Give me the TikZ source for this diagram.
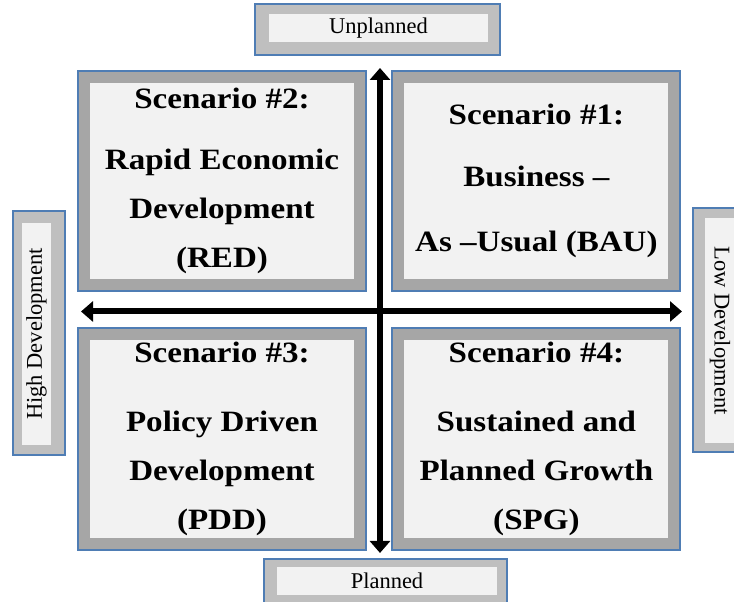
\documentclass[tikz,border=0pt]{standalone}
\usepackage{fontspec}
\setmainfont{Liberation Serif}
\newfontfamily\scenfont[FakeStretch=1.12]{Liberation Serif}
\usetikzlibrary{arrows.meta}
\definecolor{rimblue}{RGB}{79,125,180}
\definecolor{bandgray}{RGB}{166,166,166}
\definecolor{taggray}{RGB}{191,191,191}
\definecolor{paper}{RGB}{242,242,242}
\tikzset{
    scenbox/.style = {rectangle, draw=rimblue, line width=1.3pt, fill=bandgray, minimum width=7.2cm, inner sep=0pt},
    scentext/.style = {rectangle, fill=paper, minimum width=6.6cm, align=center, inner sep=0pt, font=\scenfont\bfseries\fontsize{21}{35}\selectfont},
    tagbox/.style = {rectangle, draw=rimblue, line width=1.3pt, fill=taggray, inner sep=0pt},
    tagtext/.style = {rectangle, fill=paper, inner sep=0pt, font=\fontsize{16}{19}\selectfont},
    axis/.style = {{Triangle[width=0.5cm,length=0.3cm]}-{Triangle[width=0.5cm,length=0.3cm]}, line width=0.15cm}
}

\begin{document}
\begin{tikzpicture}
\path[use as bounding box] (0,0) rectangle (18.35,15.05);
\clip (0,0) rectangle (18.35,15.05);
%
% scenario quadrants
\node[scenbox,minimum height=5.5cm] at (5.55,10.525) (s2) {};
\node[scentext,minimum height=4.9cm] at (s2) (s2t) {Scenario \#2:\\[8pt] Rapid Economic\\ Development\\ (RED)};
\node[scenbox,minimum height=5.5cm] at (13.41,10.525) (s1) {};
\node[scentext,minimum height=4.9cm] at (s1) (s1t) {Scenario \#1:\\[9pt] Business –\\[11pt] As –Usual (BAU)};
\node[scenbox,minimum height=5.55cm] at (5.55,4.075) (s3) {};
\node[scentext,minimum height=4.95cm] at (s3) (s3t) {Scenario \#3:\\[14pt] Policy Driven\\ Development\\ (PDD)};
\node[scenbox,minimum height=5.55cm] at (13.41,4.075) (s4) {};
\node[scentext,minimum height=4.95cm] at (s4) (s4t) {Scenario \#4:\\[14pt] Sustained and\\ Planned Growth\\ (SPG)};
%
% axis labels
\node[tagbox,minimum width=6.125cm,minimum height=1.275cm] at (9.4375,14.3125) (unpl) {};
\node[tagtext,minimum width=5.475cm,minimum height=0.7cm] at (9.4625,14.35) (unplt) {Unplanned};
\node[tagbox,minimum width=6.075cm,minimum height=1.325cm] at (9.6375,0.4125) (pl) {};
\node[tagtext,minimum width=5.5cm,minimum height=0.7cm] at (9.675,0.525) (plt) {Planned};
\node[tagbox,minimum width=1.3cm,minimum height=6.1cm] at (0.975,6.725) (hi) {};
\node[tagtext,rotate=90,minimum width=5.55cm,minimum height=0.725cm] at (0.9125,6.7) (hit) {High Development};
\node[tagbox,minimum width=1.35cm,minimum height=6.1cm] at (18.0,6.8) (lo) {};
\node[tagtext,rotate=-90,minimum width=5.625cm,minimum height=0.75cm] at (18.0,6.7875) (lot) {Low Development};
%
% axes
\coordinate (top) at (9.5,13.35);
\coordinate (bot) at (9.5,1.225);
\coordinate (lft) at (2.025,7.2625);
\coordinate (rgt) at (17.05,7.2625);
\draw[axis] (top) -- (bot);
\draw[axis] (lft) -- (rgt);

\end{tikzpicture}
\end{document}
